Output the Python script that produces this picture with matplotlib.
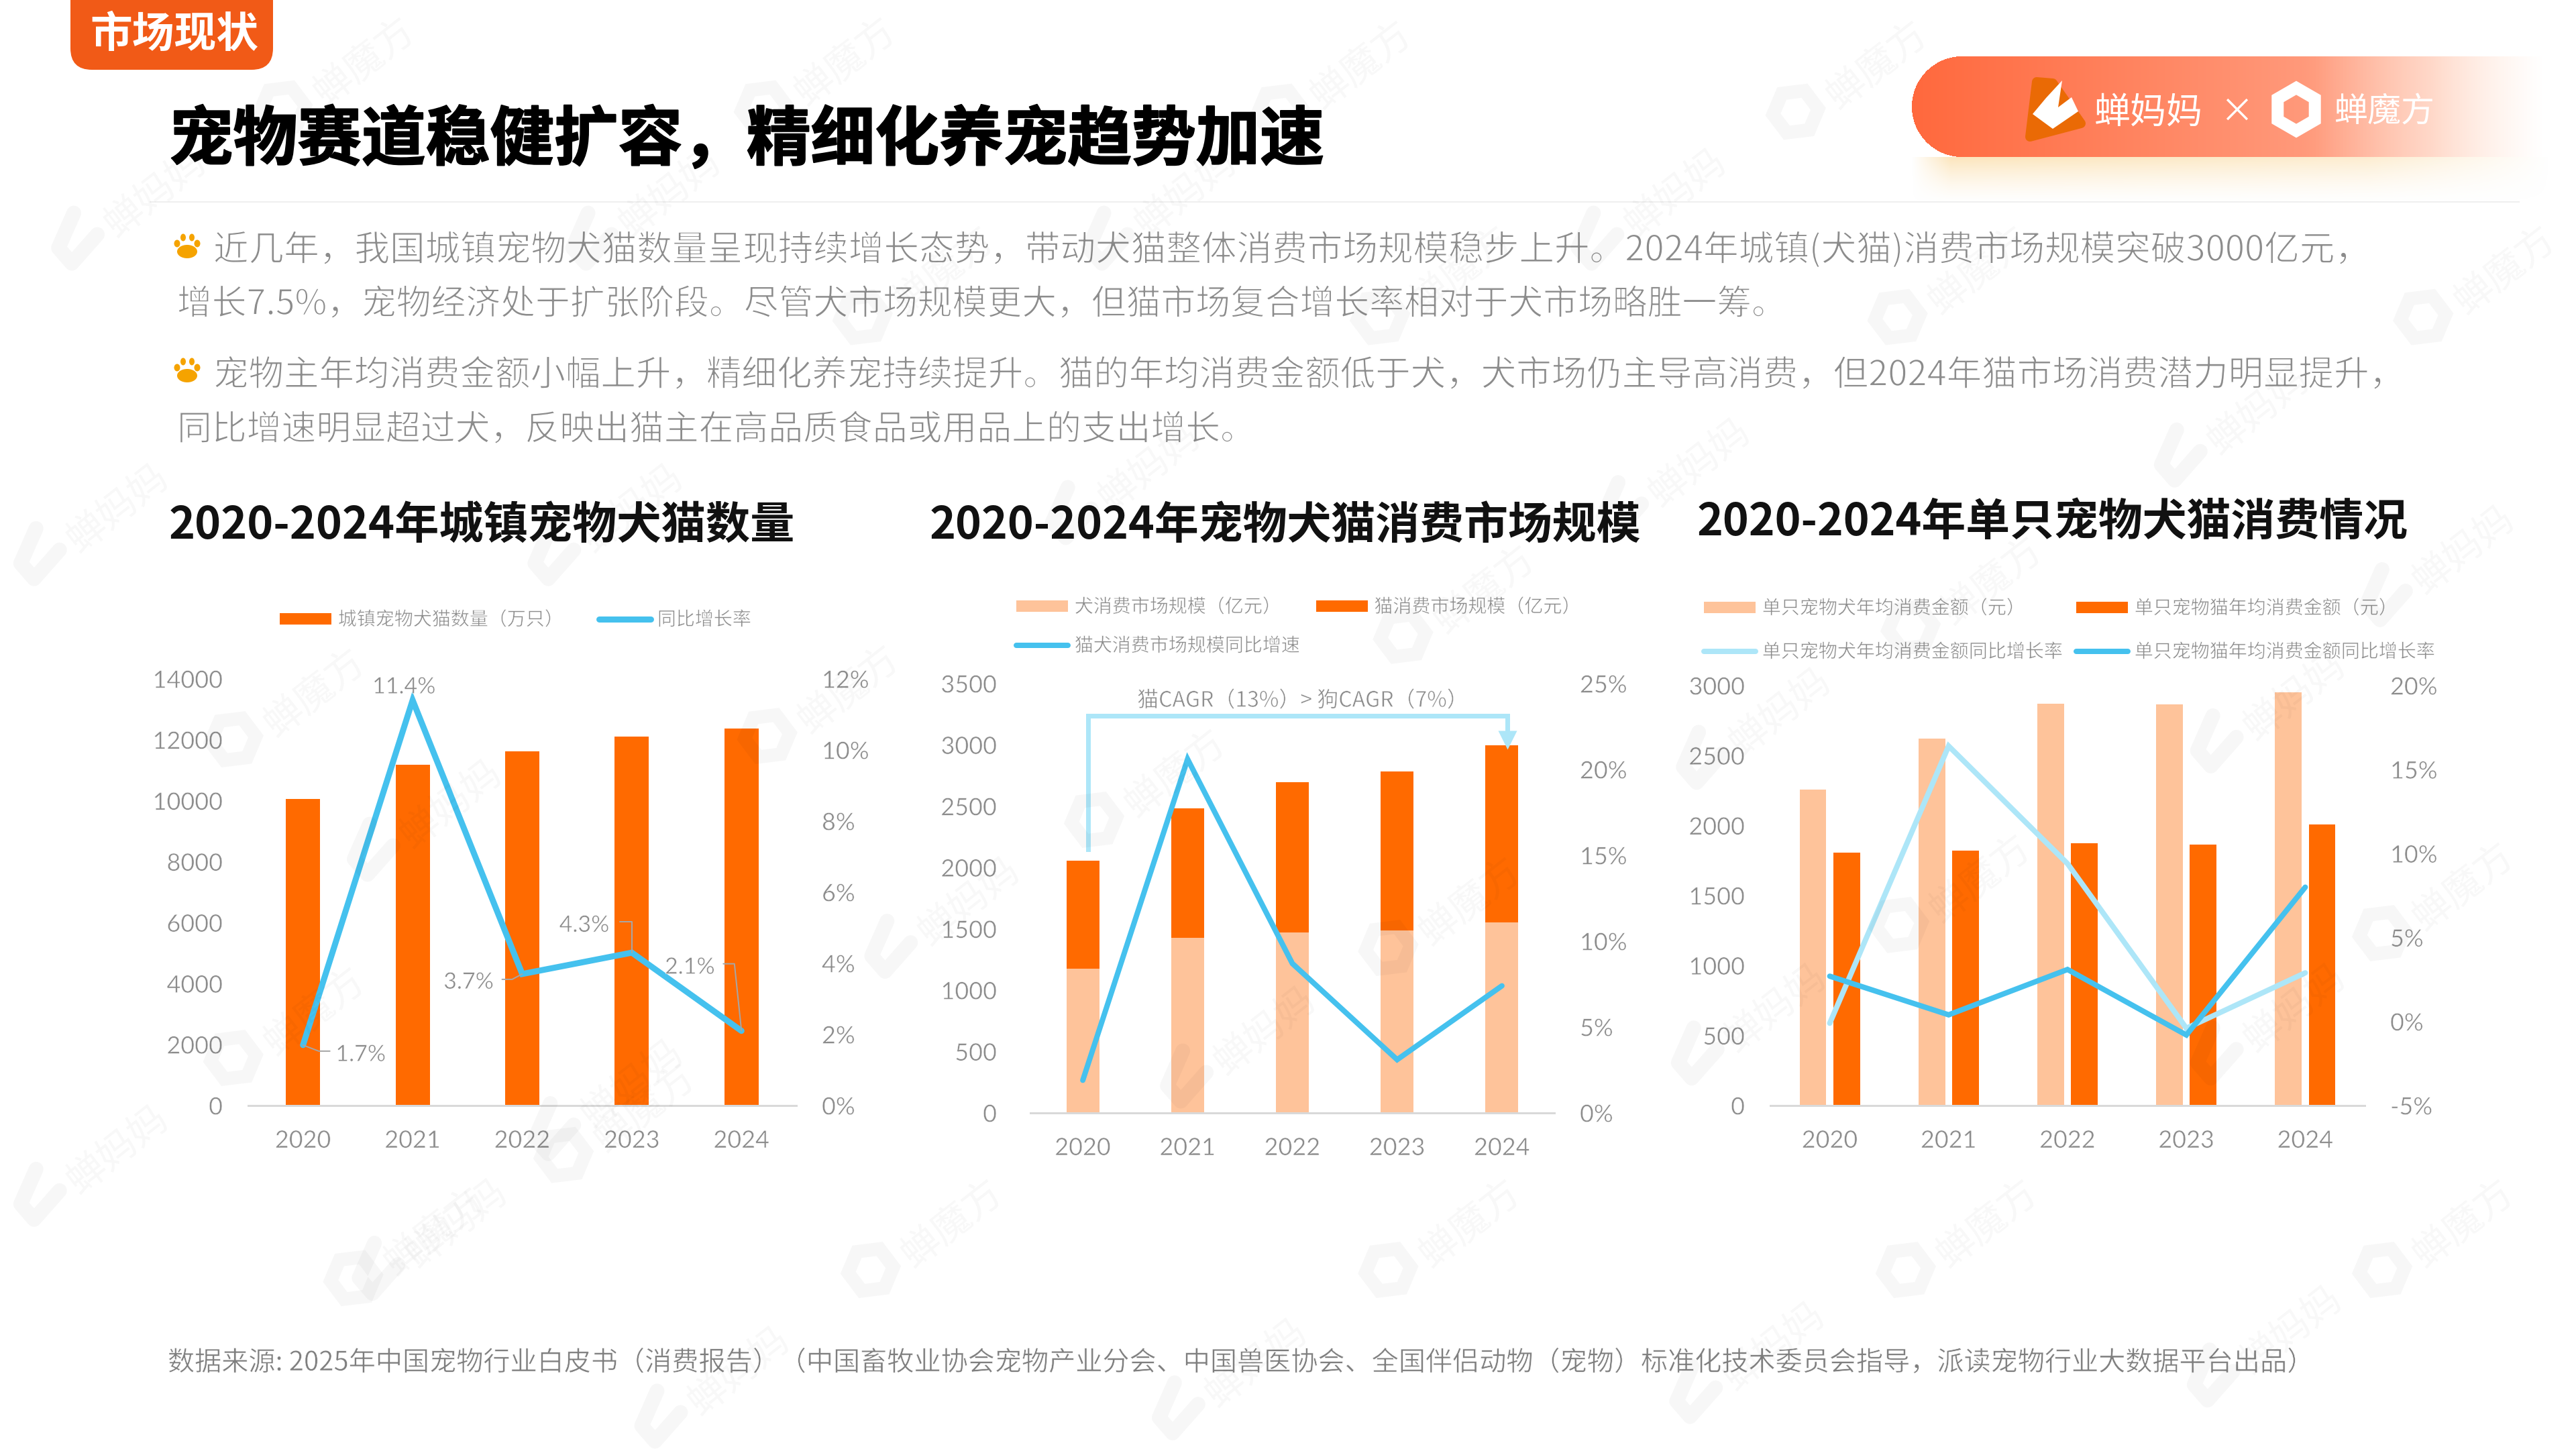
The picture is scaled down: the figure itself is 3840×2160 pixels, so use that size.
import numpy as np
import matplotlib
matplotlib.use('Agg')
import matplotlib.pyplot as plt
import matplotlib.patheffects as pe
from matplotlib.patches import Ellipse, FancyBboxPatch, Polygon, RegularPolygon

W, H = 3840, 2160
PX = 0.72  # one pixel in points at dpi 100
CN_FONT = ['Noto Sans CJK SC', 'DejaVu Sans']
NUM_FONT = ['Lato', 'Noto Sans CJK SC']
plt.rcParams['font.family'] = CN_FONT

ORANGE = '#ff6a00'
PEACH = '#fec39a'
BLUE = '#45c1ee'
PALE_BLUE = '#ade6f8'
GREY = '#8c8c8c'
# white edge eats into the glyphs, the installed CJK font has no light cut
THIN = [pe.Stroke(linewidth=1.4 * PX, foreground='white')]
THIN_SMALL = [pe.Stroke(linewidth=0.6 * PX, foreground='white')]

######## DATA ########
years = ['2020', '2021', '2022', '2023', '2024']

pet_count = [10050, 11180, 11630, 12100, 12370]
pet_growth = [1.7, 11.4, 3.7, 4.3, 2.1]
pet_growth_labels = ['1.7%', '11.4%', '3.7%', '4.3%', '2.1%']

dog_market = [1177, 1428, 1469, 1485, 1554]
cat_market = [879, 1055, 1227, 1299, 1441]
market_growth = [1.9, 20.6, 8.7, 3.1, 7.4]

dog_spend = [2255, 2623, 2871, 2865, 2950]
cat_spend = [1809, 1820, 1875, 1862, 2010]
dog_spend_growth = [-0.1, 16.4, 9.4, -0.4, 2.9]
cat_spend_growth = [2.7, 0.4, 3.1, -0.8, 8.0]

tag_text = '市场现状'
page_title = '宠物赛道稳健扩容，精细化养宠趋势加速'
body_lines = [
    '近几年，我国城镇宠物犬猫数量呈现持续增长态势，带动犬猫整体消费市场规模稳步上升。2024年城镇(犬猫)消费市场规模突破3000亿元，',
    '增长7.5%，宠物经济处于扩张阶段。尽管犬市场规模更大，但猫市场复合增长率相对于犬市场略胜一筹。',
    '宠物主年均消费金额小幅上升，精细化养宠持续提升。猫的年均消费金额低于犬，犬市场仍主导高消费，但2024年猫市场消费潜力明显提升，',
    '同比增速明显超过犬，反映出猫主在高品质食品或用品上的支出增长。',
]
chart_titles = ['2020-2024年城镇宠物犬猫数量', '2020-2024年宠物犬猫消费市场规模', '2020-2024年单只宠物犬猫消费情况']
source_text = '数据来源: 2025年中国宠物行业白皮书（消费报告）（中国畜牧业协会宠物产业分会、中国兽医协会、全国伴侣动物（宠物）标准化技术委员会指导，派读宠物行业大数据平台出品）'

# watermark centres in 1568-wide picture coordinates
marks_mama = [(95, 118), (408, 118), (722, 118), (1020, 118), (72, 310), (385, 310), (700, 285), (1035, 282),
              (1375, 250), (1500, 335), (1084, 434), (1397, 424), (590, 549), (275, 490), (1081, 614), (1397, 614),
              (770, 628), (72, 700), (385, 660), (278, 745), (1080, 820), (1395, 810), (450, 835), (765, 830)]
marks_cube = [(222, 38), (515, 38), (829, 40), (1143, 40), (1525, 165), (1205, 165), (890, 165), (575, 165),
              (192, 422), (517, 420), (904, 359), (1213, 354), (716, 471), (895, 549), (1206, 535), (192, 616),
              (393, 675), (1500, 540), (580, 745), (895, 745), (1210, 745), (1500, 745), (265, 750)]


def to_axes(left, right, top, bottom):
    return fig.add_axes([left / W, 1 - bottom / H, (right - left) / W, (bottom - top) / H])


def style_axes(ax, ax2, left_pad, right_pad):
    ax.set_xlim(-0.5, 4.5)
    ax.set_xticks(range(5))
    ax.set_xticklabels(years)
    for a in (ax, ax2):
        for s in a.spines.values():
            s.set_visible(False)
        a.patch.set_alpha(0)
    ax.spines['bottom'].set_visible(True)
    ax.spines['bottom'].set_color('#d9d9d9')
    ax.spines['bottom'].set_linewidth(3 * PX)
    ax.tick_params(axis='x', length=0, labelsize=36 * PX, labelcolor=GREY, pad=36 * PX)
    ax.tick_params(axis='y', length=0, labelsize=36 * PX, labelcolor=GREY, pad=left_pad * PX)
    ax2.tick_params(axis='y', length=0, labelsize=36 * PX, labelcolor=GREY, pad=right_pad * PX)
    for lab in ax.get_xticklabels() + ax.get_yticklabels() + ax2.get_yticklabels():
        lab.set_family(NUM_FONT)
        lab.set_path_effects(THIN_SMALL)


def fit_text(t, target):
    # scale the font so the line spans the same width as in the picture
    width = t.get_window_extent(fig.canvas.get_renderer()).width
    t.set_fontsize(t.get_fontsize() * target / width)


def draw_legend(ax, ax2, order, anchor, labelspacing, columnspacing):
    h1, l1 = ax.get_legend_handles_labels()
    h2, l2 = ax2.get_legend_handles_labels()
    handles = h1 + h2
    labels = l1 + l2
    handles = [handles[i] for i in order]
    labels = [labels[i] for i in order]
    leg = ax2.legend(handles, labels, ncol=2, frameon=False, loc='upper left', bbox_to_anchor=anchor,
                     bbox_transform=fig.transFigure, fontsize=28 * PX, labelcolor=GREY, handlelength=2.75,
                     handleheight=0.55, handletextpad=0.35, columnspacing=columnspacing,
                     labelspacing=labelspacing, borderpad=0, borderaxespad=0)
    for t in leg.get_texts():
        t.set_path_effects(THIN_SMALL)
    return leg


fig = plt.figure(figsize=(W / 100, H / 100), dpi=100, facecolor='white')

######## BACKGROUND PAGE ########
page = fig.add_axes([0, 0, 1, 1], zorder=0)
page.set_xlim(0, W)
page.set_ylim(H, 0)
page.axis('off')

page.add_patch(FancyBboxPatch((105, -60), 302, 164, boxstyle='round,pad=0,rounding_size=32',
                              fc='#f15a17', ec='none'))
t = page.text(260, 51, tag_text, color='white', fontsize=62 * PX, fontweight='bold', ha='center', va='center')
fit_text(t, 251)

t = page.text(252, 210, page_title, color='black', fontsize=94 * PX, fontweight='black', va='center',
              path_effects=[pe.withStroke(linewidth=2 * PX, foreground='black')])
fit_text(t, 1722)

page.plot([224, 3755], [301, 301], color='#efefef', lw=2 * PX)

body_x = [318, 264, 318, 264]
body_y = [373, 454, 560, 641]
body_w = [3215, 2399, 3266, 1607]
for s, x, y, w in zip(body_lines, body_x, body_y, body_w):
    t = page.text(x, y, s, color=GREY, fontsize=51 * PX, fontweight='light', va='center', path_effects=THIN)
    fit_text(t, w)

for py in (367, 552):
    page.add_patch(Ellipse((279, py + 8), 30, 20, fc='#f5a300', ec='none'))
    for dx, dy, rx, ry in [(-15, -4, 9, 11), (-6, -13, 8, 11), (7, -13, 8, 11), (15, -4, 9, 11)]:
        page.add_patch(Ellipse((279 + dx, py + dy), rx, ry, fc='#f5a300', ec='none'))

# pill with the two logos, fades out to the right
pw, ph = 970, 150
xx = np.arange(pw) + 0.5
yy = np.arange(ph) + 0.5
gx, gy = np.meshgrid(xx, yy)
pill = np.zeros((ph, pw, 4))
pill[..., 0] = 1.0
pill[..., 1] = np.interp(gx / pw, [0, 0.6, 1], [0.41, 0.60, 0.90])
pill[..., 2] = np.interp(gx / pw, [0, 0.6, 1], [0.24, 0.48, 0.82])
alpha = np.interp(gx / pw, [0, 0.62, 0.8, 0.97], [1, 1, 0.6, 0])
r = ph / 2
outside = (gx < r) & ((gx - r) ** 2 + (gy - r) ** 2 > r ** 2)
alpha[outside] = 0
pill[..., 3] = alpha
shadow = np.zeros((70, pw, 4))
shadow[..., 0] = 0.99
shadow[..., 1] = 0.90
shadow[..., 2] = 0.74
sy, sx = np.meshgrid(np.arange(70) / 70, xx / pw, indexing='ij')
shadow[..., 3] = (1 - sy) ** 1.5 * np.interp(sx, [0, 0.06, 0.7, 0.98], [0, 1, 0.7, 0])
page.imshow(shadow, extent=(2850, 2850 + pw, 234 + 70, 234), aspect='auto', zorder=1)
page.imshow(pill, extent=(2850, 2850 + pw, 84 + ph, 84), aspect='auto', zorder=2)
page.set_xlim(0, W)
page.set_ylim(H, 0)

page.add_patch(Polygon([[3036, 122], [3060, 124], [3102, 184], [3026, 204]], closed=True, fc='#ea6a05',
                       ec='#ea6a05', lw=14 * PX, joinstyle='round', zorder=3))
page.add_patch(Polygon([[3074, 120], [3068, 160], [3088, 145], [3098, 166], [3060, 192], [3030, 170], [3050, 146]],
                       closed=True, fc='white', ec='none', zorder=4))
page.text(3203, 168, '蝉妈妈', color='white', fontsize=54 * PX, ha='center', va='center', zorder=4)
page.text(3334, 168, '×', color='white', fontsize=50 * PX, fontweight='light', ha='center', va='center', zorder=4)
page.add_patch(RegularPolygon((3423, 163), 6, radius=32, fc='none', ec='white', lw=18 * PX, zorder=4))
page.text(3554, 168, '蝉魔方', color='white', fontsize=50 * PX, ha='center', va='center', zorder=4)

title_pos = [(252, 783, 933), (1386, 783, 1061), (2530, 778, 1060)]
for s, (x, y, w) in zip(chart_titles, title_pos):
    t = page.text(x, y, s, color='#111111', fontsize=66 * PX, fontweight='bold', va='center')
    fit_text(t, w)

t = page.text(250, 2032, source_text, color='#7f7f7f', fontsize=36 * PX, fontweight='light', va='center',
              path_effects=THIN_SMALL)
fit_text(t, 3199)

######## CHART 1 ########
x = np.arange(5)
ax = to_axes(370, 1187, 1012, 1648)
ax.set_zorder(2)
ax2 = ax.twinx()
ax2.set_zorder(3)
ax.bar(x, pet_count, width=0.313, color=ORANGE, label='城镇宠物犬猫数量（万只）')
ax2.plot(x, pet_growth, color=BLUE, lw=9 * PX, solid_joinstyle='miter', solid_capstyle='round',
         clip_on=False, label='同比增长率')
ax.set_ylim(0, 14000)
ax.set_yticks(range(0, 14001, 2000))
ax2.set_ylim(0, 12)
ax2.set_yticks(range(0, 13, 2))
ax2.set_yticklabels([f'{v}%' for v in range(0, 13, 2)])
style_axes(ax, ax2, 38, 38)
draw_legend(ax, ax2, [0, 1], (417 / W, 1 - 909 / H), 1.0, 1.9)

label_off = [(86, -14), (-13, 20), (-80, -12), (-71, 41), (-77, 95)]
for i, (s, off) in enumerate(zip(pet_growth_labels, label_off)):
    ax2.annotate(s, (i, pet_growth[i]), xytext=off, textcoords='offset pixels', ha='center', va='center',
                 color=GREY, fontsize=34 * PX, family=NUM_FONT, path_effects=THIN_SMALL)
# leader lines: (end offset, angle at the point)
leaders = [(0, (40, -9), -21), (2, (-30, -8), 28), (3, (-18, 46), 90), (4, (-27, 100), 96)]
for i, off, ang in leaders:
    ax2.annotate('', xy=(i, pet_growth[i]), xytext=off, textcoords='offset pixels',
                 arrowprops=dict(arrowstyle='-', color='#a6a6a6', lw=2 * PX, shrinkA=0, shrinkB=0,
                                 connectionstyle=f'angle,angleA=0,angleB={ang},rad=0'))

######## CHART 2 ########
ax = to_axes(1536, 2317, 1019, 1659)
ax.set_zorder(2)
ax2 = ax.twinx()
ax2.set_zorder(3)
ax.bar(x, dog_market, width=0.314, color=PEACH, label='犬消费市场规模（亿元）')
ax.bar(x, cat_market, width=0.314, bottom=dog_market, color=ORANGE, label='猫消费市场规模（亿元）')
ax2.plot(x, market_growth, color=BLUE, lw=8 * PX, solid_joinstyle='miter', solid_capstyle='round',
         clip_on=False, label='猫犬消费市场规模同比增速')
ax.set_ylim(0, 3500)
ax.set_yticks(range(0, 3501, 500))
ax2.set_ylim(0, 25)
ax2.set_yticks(range(0, 26, 5))
ax2.set_yticklabels([f'{v}%' for v in range(0, 26, 5)])
style_axes(ax, ax2, 50, 38)
draw_legend(ax, ax2, [0, 2, 1], (1515 / W, 1 - 890 / H), 1.0, 0.85)

# CAGR bracket above the bars
ax.plot([0.05, 0.05, 4.05, 4.05], [2150, 3235, 3235, 3060], color=PALE_BLUE, lw=7 * PX, zorder=5,
        solid_joinstyle='miter')
ax.plot([4.05], [3040], marker='v', ms=20, color=PALE_BLUE, mec='none', zorder=5)
cagr = ax.text(2.1, 3360, '猫CAGR（13%）> 狗CAGR（7%）', color=GREY, fontsize=32 * PX, ha='center', va='center')
cagr.set_path_effects(THIN_SMALL)

######## CHART 3 ########
ax = to_axes(2639, 3525, 1022, 1648)
ax.set_zorder(2)
ax2 = ax.twinx()
ax2.set_zorder(3)
ax.bar(x - 0.142, dog_spend, width=0.225, color=PEACH, label='单只宠物犬年均消费金额（元）')
ax.bar(x + 0.142, cat_spend, width=0.225, color=ORANGE, label='单只宠物猫年均消费金额（元）')
ax2.plot(x, dog_spend_growth, color=PALE_BLUE, lw=8 * PX, solid_joinstyle='miter', solid_capstyle='round',
         clip_on=False, label='单只宠物犬年均消费金额同比增长率')
ax2.plot(x, cat_spend_growth, color=BLUE, lw=8 * PX, solid_joinstyle='miter', solid_capstyle='round',
         clip_on=False, label='单只宠物猫年均消费金额同比增长率')
ax.set_ylim(0, 3000)
ax.set_yticks(range(0, 3001, 500))
ax2.set_ylim(-5, 20)
ax2.set_yticks(range(-5, 21, 5))
ax2.set_yticklabels([f'{v}%' for v in range(-5, 21, 5)])
style_axes(ax, ax2, 38, 38)
draw_legend(ax, ax2, [0, 2, 1, 3], (2540 / W, 1 - 892 / H), 1.25, 0.72)

######## WATERMARK ON TOP ########
over = fig.add_axes([0, 0, 1, 1], zorder=10)
over.set_xlim(0, W)
over.set_ylim(H, 0)
over.axis('off')
S = W / 1568
WM = dict(color='black', alpha=0.03)
for mx, my in marks_mama:
    over.text(mx * S, my * S, '蝉妈妈', fontsize=58 * PX, rotation=38, ha='center', va='center', **WM)
    ix, iy = (mx - 48) * S, (my + 28) * S
    over.plot([ix - 5, ix - 28, ix - 8, ix + 30], [iy - 40, iy + 12, iy + 35, iy - 8], color='black', lw=22 * PX,
              alpha=0.03, solid_joinstyle='round', solid_capstyle='round')
for mx, my in marks_cube:
    over.text(mx * S, my * S, '蝉魔方', fontsize=58 * PX, rotation=38, ha='center', va='center', **WM)
    ix, iy = (mx - 50) * S, (my + 28) * S
    over.add_patch(RegularPolygon((ix, iy), 6, radius=34, orientation=0.4, fc='none', ec='black', lw=20 * PX,
                                  alpha=0.03))

fig.savefig('out.png', dpi=100)
